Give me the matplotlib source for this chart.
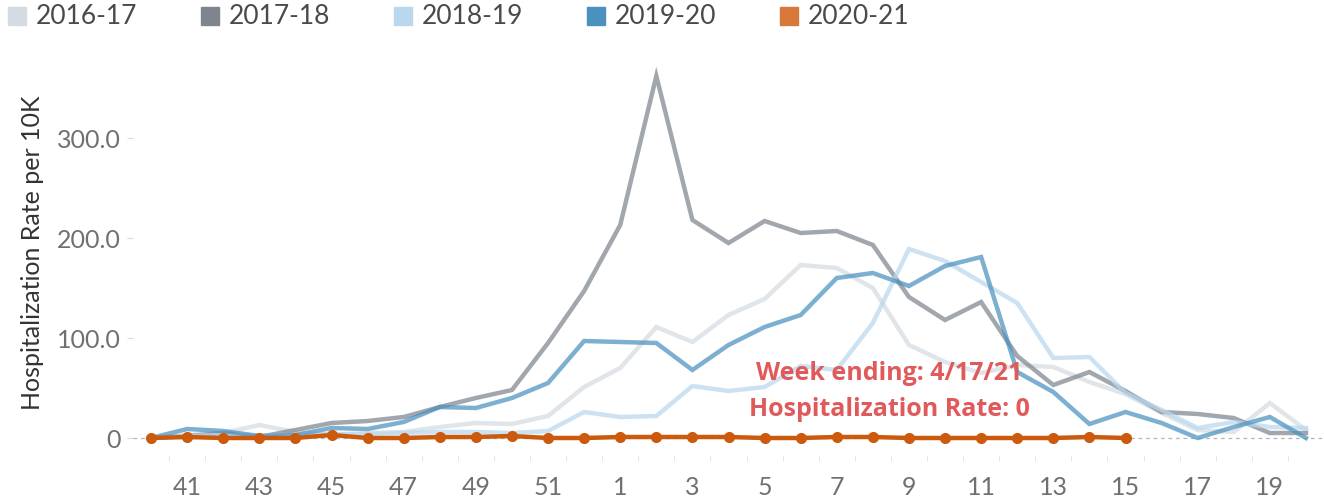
import matplotlib
matplotlib.use("Agg")
import matplotlib.pyplot as plt
from matplotlib.patches import Rectangle
import numpy as np

plt.rcParams["font.family"] = ["Lato", "DejaVu Sans"]

# semanas epidemiológicas (40 a 52, luego 1 a 20)
weeks = list(range(40, 53)) + list(range(1, 21))

seasons = ["2016-17", "2017-18", "2018-19", "2019-20", "2020-21"]
legend_colors = ["#d5dbe2", "#7f858f", "#b9d8ee", "#4b91c0", "#d6793a"]

rate_2016_17 = [0, 3, 5, 13, 6, 3, 5, 6, 11, 15, 14, 22, 51,
                70, 111, 96, 123, 139, 173, 170, 150, 93, 76, 65, 73, 71,
                56, 44, 25, 8, 6, 35, 8]
rate_2017_18 = [0, 2, 5, 1, 8, 15, 17, 21, 31, 40, 48, 95, 147,
                213, 362, 218, 195, 217, 205, 207, 193, 141, 118, 136, 82,
                53, 66, 47, 26, 24, 20, 5, 5]
rate_2018_19 = [0, 2, 3, 2, 3, 4, 4, 5, 6, 6, 5, 7, 26,
                21, 22, 52, 47, 51, 72, 68, 115, 189, 177, 156, 135, 80,
                81, 45, 28, 10, 16, 11, 10]
rate_2019_20 = [0, 9, 7, 2, 3, 10, 9, 16, 31, 30, 40, 55, 97,
                96, 95, 68, 93, 111, 123, 160, 165, 152, 172, 181, 66, 46,
                14, 26, 15, 0, 11, 21, 0]
rate_2020_21 = [0, 1, 0, 0, 0, 3, 0, 0, 1, 1, 2, 0, 0,
                1, 1, 1, 1, 0, 0, 1, 1, 0, 0, 0, 0, 0, 1, 0]

yticks = [0, 100, 200, 300]
ytick_labels = ["0", "100.0", "200.0", "300.0"]

W, H = 1324, 499
fig = plt.figure(figsize=(W / 100, H / 100), dpi=100)
ax = fig.add_axes([133 / W, (H - 455) / H, 1 - 133 / W, 400 / H])

x = np.arange(len(weeks))
ax.axhline(0, color="#b5b5b5", lw=0.9, ls=(0, (3, 3)), zorder=1)

history = [rate_2016_17, rate_2017_18, rate_2018_19, rate_2019_20]
for serie, col in zip(history, legend_colors[:4]):
    ax.plot(x, serie, color=col, lw=3.2, alpha=0.72,
            solid_joinstyle="miter", zorder=2)

x_cur = np.arange(len(rate_2020_21))
ax.plot(x_cur, rate_2020_21, color="#cc5a0c", lw=3.2, marker="o",
        markersize=7, zorder=4)

note_font = dict(family=["Open Sans", "DejaVu Sans"], fontsize=18,
                 fontweight="bold", color="#e05a5c")
ax.text(20.45, 65, "Week ending: 4/17/21", ha="center", va="center",
        zorder=5, **note_font)
ax.text(20.45, 28, "Hospitalization Rate: 0", ha="center", va="center",
        zorder=5, **note_font)

ax.set_xlim(-0.5, len(weeks) - 0.5)
ax.set_ylim(-17, 383)

odd = [i for i, w in enumerate(weeks) if w % 2 == 1]
ax.set_xticks(odd, [str(weeks[i]) for i in odd])
ax.set_xticks(np.arange(0.5, len(weeks) - 0.5, 1), minor=True)
ax.tick_params(axis="x", which="major", length=0, pad=15,
               labelsize=18, labelcolor="#707070")
ax.tick_params(axis="x", which="minor", length=4, color="#e2e2e2",
               direction="out", pad=0)

ax.set_yticks(yticks, ytick_labels)
ax.tick_params(axis="y", length=4, color="#d8d8d8", pad=5,
               labelsize=18, labelcolor="#707070")

for s in ax.spines.values():
    s.set_visible(False)

ax.set_ylabel("Hospitalization Rate per 10K", fontsize=18, color="#333333")
ax.yaxis.set_label_coords(-(133 - 44) / (W - 133), 0.505)

# leyenda superior
for i, (name, col) in enumerate(zip(seasons, legend_colors)):
    x0 = 8 + i * 193
    fig.patches.append(Rectangle((x0 / W, 1 - 25 / H), 18 / W, 18 / H,
                                 transform=fig.transFigure, color=col))
    fig.text((x0 + 28) / W, 1 - 16 / H, name, fontsize=19,
             color="#4a4a4a", va="center", ha="left")

fig.savefig("out.png", dpi=100)
